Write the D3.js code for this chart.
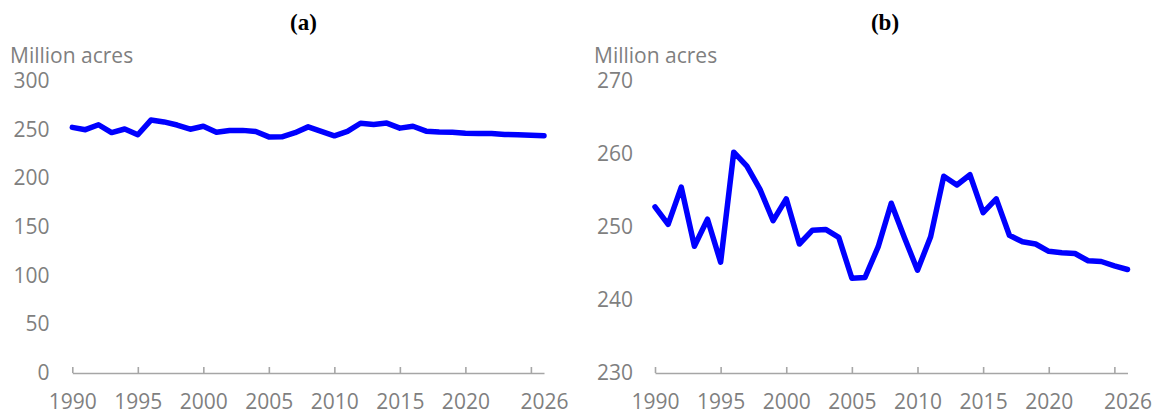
<!DOCTYPE html>
<html>
<head>
<meta charset="utf-8">
<script src="https://cdn.jsdelivr.net/npm/d3@7"></script>
<style>
  body { margin: 0; background: #fff; }
  .tick text { font-family: "Open Sans", sans-serif; font-size: 21px; fill: #7f7f7f; }
  .unit { font-family: "Open Sans", sans-serif; font-size: 21px; fill: #7f7f7f; }
  .panel-title { font-family: "Liberation Serif", "Times New Roman", serif; font-size: 23px; font-weight: bold; fill: #000; }
</style>
</head>
<body>
<script>
// years on the category axis
var years = d3.range(1990, 2027);

// acreage, million acres
var acres = [252.8, 250.4, 255.5, 247.4, 251.1, 245.2, 260.3, 258.4, 255.2, 250.9,
             253.9, 247.7, 249.6, 249.7, 248.6, 243.0, 243.1, 247.3, 253.3, 248.6,
             244.1, 248.7, 257.0, 255.8, 257.2, 252.0, 253.9, 248.9, 248.0, 247.7,
             246.7, 246.5, 246.4, 245.4, 245.3, 244.7, 244.2];

var xTicks = [1990, 1995, 2000, 2005, 2010, 2015, 2020, 2025];
var xLabels = [1990, 1995, 2000, 2005, 2010, 2015, 2020, 2026];

var leftTicks = [0, 50, 100, 150, 200, 250, 300];
var rightTicks = [230, 240, 250, 260, 270];

var data = years.map(function (y, i) { return { year: y, value: acres[i] }; });

var svg = d3.select("body").append("svg")
  .attr("width", 1158)
  .attr("height", 416);

// one panel = same series, different y range
function drawPanel(opts) {
  var x = d3.scaleLinear()
    .domain([1990, 2026])
    .range([opts.x0, opts.x1]);

  var y = d3.scaleLinear()
    .domain(opts.domain)
    .range([373, 81.5]);

  var g = svg.append("g");

  // tick marks pointing up into the plot
  g.append("g")
    .attr("transform", "translate(0,373)")
    .call(d3.axisBottom(x).tickValues(xTicks).tickSizeInner(-6).tickSizeOuter(0).tickFormat(""))
    .call(function (a) {
      a.select(".domain").attr("stroke", "#a6a6a6").attr("stroke-width", 1.6);
      a.selectAll(".tick line").attr("stroke", "#a6a6a6").attr("stroke-width", 1.6);
    });

  // year labels
  g.append("g")
    .attr("transform", "translate(0,373)")
    .call(d3.axisBottom(x).tickValues(xLabels).tickSize(0).tickPadding(21).tickFormat(d3.format("d")))
    .call(function (a) { a.select(".domain").remove(); });

  // value labels
  g.append("g")
    .attr("transform", "translate(" + opts.yLabelX + ",0)")
    .call(d3.axisLeft(y).tickValues(opts.ticks).tickSize(0).tickPadding(0))
    .call(function (a) {
      a.select(".domain").remove();
      a.selectAll(".tick text").attr("dy", "0.3em");
    });

  g.append("text")
    .attr("class", "unit")
    .attr("x", opts.unitX)
    .attr("y", 63)
    .text("Million acres");

  g.append("text")
    .attr("class", "panel-title")
    .attr("x", opts.titleX)
    .attr("y", 30)
    .attr("text-anchor", "middle")
    .text(opts.title);

  var line = d3.line()
    .x(function (d) { return x(d.year); })
    .y(function (d) { return y(d.value); });

  g.append("path")
    .datum(data)
    .attr("d", line)
    .attr("fill", "none")
    .attr("stroke", "#0000ff")
    .attr("stroke-width", 5.5)
    .attr("stroke-linejoin", "round")
    .attr("stroke-linecap", "round");
}

drawPanel({ x0: 72.3, x1: 544, domain: [0, 300], ticks: leftTicks,
            yLabelX: 49.5, unitX: 10, titleX: 303.5, title: "(a)" });

drawPanel({ x0: 655, x1: 1127.5, domain: [230, 270], ticks: rightTicks,
            yLabelX: 633, unitX: 594, titleX: 885, title: "(b)" });
</script>
</body>
</html>
